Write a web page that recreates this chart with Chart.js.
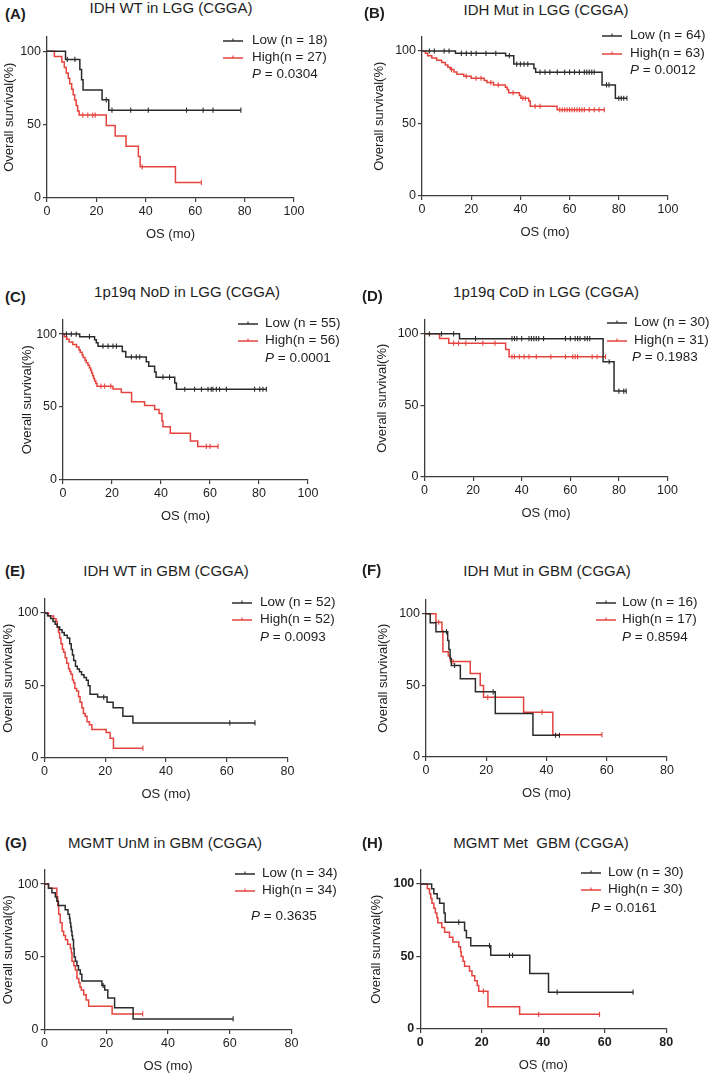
<!DOCTYPE html>
<html><head><meta charset="utf-8">
<script src="https://cdn.jsdelivr.net/npm/chart.js@4.4.1/dist/chart.umd.min.js"></script>
<style>
html,body{margin:0;padding:0;background:#fff;}
#fig{position:relative;width:709px;height:1073px;overflow:hidden;font-family:"Liberation Sans",Arial,Helvetica,sans-serif;color:#1e1e1e;}
.abs{position:absolute;white-space:pre;}
.lab{font-weight:bold;font-size:15px;line-height:18px;transform:translateY(-50%);}
.ttl{font-size:15px;line-height:18px;transform:translate(-50%,-50%);}
.leg{font-size:13.5px;line-height:16px;transform:translateY(-50%);}
.icon{position:absolute;transform:translateY(-50%);}
canvas{position:absolute;}
</style></head><body><div id="fig"></div>
<script>
// ---------------- DATA ----------------
const panelKeys   = ['A','B','C','D','E','F','G','H'];
const panelTitles = ['IDH WT in LGG (CGGA)','IDH Mut in LGG (CGGA)','1p19q NoD in LGG (CGGA)','1p19q CoD in LGG (CGGA)',
                     'IDH WT in GBM (CGGA)','IDH Mut in GBM (CGGA)','MGMT UnM in GBM (CGGA)','MGMT Met  GBM (CGGA)'];
const lowLabels   = ['Low (n = 18)','Low (n = 64)','Low (n = 55)','Low (n = 30)','Low (n = 52)','Low (n = 16)','Low (n = 34)','Low (n = 30)'];
const highLabels  = ['High(n = 27)','High(n = 63)','High(n = 56)','High(n = 31)','High(n = 52)','High(n = 17)','High(n = 34)','High(n = 30)'];
const pValues     = ['0.0304','0.0012','0.0001','0.1983','0.0093','0.8594','0.3635','0.0161'];
const xMaxes      = [100,100,100,100,80,80,80,80];
const xTickStep   = 20;
const yTicks      = [0,50,100];
const yMax        = 110;

// Panel A
const A_low_t  = [0,7.5,13.3,14,14.6,22.3,25];
const A_low_s  = [100,94.4,87.5,80.6,73.6,66.9,59.8];
const A_low_c  = [8.2,11.3,24,26.3,33.9,41,56.5,63.2,67.2,78.5];
const A_high_t = [0,3,6,7,7.8,8.6,9.2,10,10.6,11.2,11.8,12.4,13,24,27.6,32,37,37.7,52];
const A_high_s = [100,96.3,92.6,88.9,85.2,81.5,77.8,74.1,70.4,66.7,63,59.3,56.5,49.4,42.3,35.3,28.2,21.2,10.6];
const A_high_c = [14.5,16.5,18.5,19.5,38.5,62.5];
// Panel B
const B_low_t  = [0,13.6,34,37.3,45.5,46.2,73.2,78.6];
const B_low_s  = [100,98.4,96.8,91,88,85.4,76.6,67.4];
const B_low_c  = [3,5,9,11,16,18,20,22,26,30,35.5,38.5,40,41.5,43,48,50,52,55,58,60,62,64,66,67,68,69,70,75,76,80,81,82,83.3];
const B_high_t = [0,1.4,2.3,4,6,8,9.5,10.5,11.5,13,14.2,17,20,25.3,26.4,29.1,33.9,34.6,35.2,39.6,40.2,43.4,44,54.9];
const B_high_s = [100,98.4,96.8,95.2,93.6,92,90.4,88.8,87.2,85.6,84,82.6,81.2,79.7,78.2,76.6,75,73.4,71.2,69.3,67.4,65.5,61.9,59.5];
const B_high_c = [12,18,22,24,28,31,37,41,42,46,48,56,57,58,59,60,61,62,63,64,65,66,68,70,72,74.1];
// Panel C
const C_low_t  = [0,6.8,12.9,13.6,14.3,24.2,25.6,34,35,37.4,38,45.6,46.3];
const C_low_s  = [100,98.2,96.2,94,91.7,88,84.3,81,78,74,70.5,66.5,62.2];
const C_low_c  = [1.4,3.4,5.4,10.8,16.3,18.4,20.4,21.8,27.9,29.9,31.3,40.8,43.5,49.7,53.7,56.5,59.2,60.5,61.2,62.6,63.9,66.7,78.2,80.3,81.6,83];
const C_high_t = [0,0.5,1.5,2.5,4,5.5,6.5,7,7.8,8.2,9,9.5,10.2,10.8,11.3,11.7,12.1,12.5,12.9,13.4,13.9,20.4,23.8,28,33.3,37.4,39.2,40.4,40.8,43.8,52,55];
const C_high_s = [100,98.2,96.4,94.6,92.9,91.1,89.3,87.5,85.7,83.9,82.1,80.4,78.6,76.8,75,73.2,71.4,69.6,67.9,66.1,64.3,62.3,59.9,53.7,51,48.3,45.6,40.5,36.5,32,26.8,23];
const C_high_c = [15.5,17,19.5,58.5,60,63.3];
// Panel D
const D_low_t  = [0,14.4,73.5,78];
const D_low_s  = [100,96.6,80.5,60];
const D_low_c  = [2,7,12,21,36,37,38,40,43,44,45,46,47,49,58,60,62,63,64,66,67,68,76,80,82,83];
const D_high_t = [0,6.2,10,33.4,34.8];
const D_high_s = [100,96.8,93.5,89,84];
const D_high_c = [12,14,17,24,29,36,37,39,41,43,46,52,58,61,62,63,69,71,74.5];
// Panel E
const E_low_t  = [0,1,2,2.8,3.5,4.2,5,5.8,6.5,7.5,8.3,8.8,9.2,9.6,10.2,10.8,11.5,12.2,13,13.8,14.4,15,17.5,20.6,22.6,25.8,29.1];
const E_low_s  = [100,98.1,96.2,94.2,92.3,90.4,88.5,86.5,84.6,82.7,78.8,74.9,71.1,67.2,63.3,61.4,59.5,57.5,55.6,53.7,49.8,44,42,38.5,34.6,28.8,24.2];
const E_low_c  = [19.5,61,69.3];
const E_high_t = [0,1.3,3,3.8,4.2,4.6,5,5.4,5.9,6.3,6.8,7.3,7.9,8.3,8.7,9.2,9.6,10,10.6,11.2,11.7,12.3,12.8,13.4,14,14.8,15.6,20.3,21.6,22.7];
const E_high_s = [100,98,96.1,94.2,90.4,86.5,82.7,78.8,75,73,69.2,65.4,61.5,59.6,57.7,53.8,51.9,48,46.2,42.3,38.5,34.6,30.7,28.8,25,23,19.6,17.6,13.7,6.8];
const E_high_c = [32.4];
// Panel F
const F_low_t  = [0,1.4,3.3,7.2,7.6,8,8.4,11.4,16.4,23,35.5];
const F_low_s  = [100,93.8,87.5,81.3,75,68.8,63.9,54.7,45.5,30.4,15.2];
const F_low_c  = [6.8,9.5,22.3,43,44.3];
const F_high_t = [0,3.3,5.3,5.6,7.4,8.1,14.7,18,19.1,32.4,42.1];
const F_high_s = [100,94.1,88.2,73.5,70.6,66.7,58.3,50,41.7,31.3,15.6];
const F_high_c = [4.2,9,20.5,38.5,58.4];
// Panel G
const G_low_t  = [0,1.3,2.4,3.5,4,4.5,6.7,7.6,8.1,8.3,8.5,8.7,8.9,9.1,9.4,9.6,10,10.5,11,11.6,12.1,18.6,19.5,20.5,22.7,28.7];
const G_low_s  = [100,97.1,94.1,91.2,88.2,85.3,82.4,79.4,76.5,73.5,70.6,67.6,64.7,61.8,55.9,50,47.1,44.1,41.2,38.2,33.6,30.5,27.4,22,15.2,7.6];
const G_low_c  = [19,61.1];
const G_high_t = [0,1.3,4,4.3,4.6,5.1,5.7,6.2,6.8,7.5,8.4,8.7,8.9,9.5,10,10.5,11.1,11.5,11.9,12.7,13.5,14.3,21.9];
const G_high_s = [100,97.1,91.2,85.3,79.4,73.5,67.6,64.7,61.8,58.8,55.9,52.9,47.1,44.1,41.2,35.3,32.4,29.4,27.5,24.2,20.6,16.3,11];
const G_high_c = [31.8];
// Panel H
const H_low_t  = [0,3.7,4.4,5.5,6.3,7.7,8.1,14.4,15,16.4,22.9,35.6,41.7];
const H_low_s  = [100,96.7,93.3,90,86.7,80,73.7,68,63,57.5,50.8,38.2,25.4];
const H_low_c  = [12.5,22.5,29,30,44.5,69.2];
const H_high_t = [0,2.3,3,3.4,3.8,4.4,4.9,5.4,5.7,7,7.9,9.5,10.6,12.5,13.1,13.3,13.9,14.4,16,16.8,17.7,18.5,19,22,32.3];
const H_high_s = [100,96.7,93.3,90,86.7,83.3,80,76.7,73.3,70,66.7,63.3,60,56.7,53.3,50,46.7,43.3,40,36.7,33.3,30,26.1,15.3,10.1];
const H_high_c = [20.5,38.5,58.3];

const lowSeries  = [[A_low_t,A_low_s,A_low_c],[B_low_t,B_low_s,B_low_c],[C_low_t,C_low_s,C_low_c],[D_low_t,D_low_s,D_low_c],
                    [E_low_t,E_low_s,E_low_c],[F_low_t,F_low_s,F_low_c],[G_low_t,G_low_s,G_low_c],[H_low_t,H_low_s,H_low_c]];
const highSeries = [[A_high_t,A_high_s,A_high_c],[B_high_t,B_high_s,B_high_c],[C_high_t,C_high_s,C_high_c],[D_high_t,D_high_s,D_high_c],
                    [E_high_t,E_high_s,E_high_c],[F_high_t,F_high_s,F_high_c],[G_high_t,G_high_s,G_high_c],[H_high_t,H_high_s,H_high_c]];

// ---------------- LAYOUT (page pixel positions) ----------------
const layout = [
 {ytx:9,    x0:47,  x1:294, yTop:33,    yBot:198,  lab:[5,14],   ttl:[171,8],   leg:{lx:223,tx:252,lowY:40, highY:57, px:252,py:74}},
 {ytx:379,  x0:422, x1:668, yTop:33.2,  yBot:196,  lab:[364,13], ttl:[546,10],  leg:{lx:602,tx:630,lowY:35, highY:53, px:630,py:70}},
 {ytx:27,   x0:63,  x1:308, yTop:316,   yBot:480,  lab:[5,297],  ttl:[187,292], leg:{lx:238,tx:265,lowY:323,highY:340,px:265,py:358}},
 {ytx:381.5,x0:424, x1:667, yTop:316.4, yBot:477,  lab:[362,296],ttl:[546,292], leg:{lx:607,tx:634,lowY:322,highY:340,px:632,py:357}},
 {ytx:7.5,  x0:44,  x1:287, yTop:595.2, yBot:758,  lab:[5,571],  ttl:[166,571], leg:{lx:232,tx:260,lowY:602,highY:619,px:260,py:637}},
 {ytx:383,  x0:426, x1:667, yTop:596.4, yBot:757,  lab:[362,570],ttl:[547,571], leg:{lx:596,tx:622,lowY:602,highY:619,px:622,py:637}},
 {ytx:7.5,  x0:44,  x1:291, yTop:866.1, yBot:1030, lab:[5,843],  ttl:[165,843], leg:{lx:235,tx:262,lowY:873,highY:890,px:251,py:916}},
 {ytx:375.7,x0:420, x1:666, yTop:866.2, yBot:1029, lab:[362,843],ttl:[541,843], leg:{lx:581,tx:608,lowY:872,highY:889,px:591,py:908}, bold:true}
];

const FONT = '"Liberation Sans", Arial, Helvetica, sans-serif';
Chart.defaults.font.family = FONT;
const BLACK = '#2b2b2b', RED = '#e5433d', AXIS = '#3c3c3c', TXT = '#1e1e1e';
const fig = document.getElementById('fig');

function survAt(t, s, x) { let v = s[0]; for (let i = 0; i < t.length; i++) if (t[i] <= x) v = s[i]; return v; }

function curveDatasets(series, color) {
  const [t, s, c] = series;
  const pts = t.map((x, i) => ({x, y: s[i]}));
  const end = Math.max(t[t.length - 1], ...c);
  if (end > t[t.length - 1]) pts.push({x: end, y: s[s.length - 1]});
  return [
    {data: pts, borderColor: color, borderWidth: 1.5, stepped: 'before', pointRadius: 0, fill: false},
    {data: c.map(x => ({x, y: survAt(t, s, x)})), showLine: false, pointStyle: 'line', rotation: 90,
     pointRadius: 2.6, borderColor: color, backgroundColor: color, borderWidth: 1.1}
  ];
}

function addText(cls, html, x, y) {
  const d = document.createElement('div');
  d.className = 'abs ' + cls; d.innerHTML = html;
  d.style.left = x + 'px'; d.style.top = y + 'px';
  fig.appendChild(d);
}
function addIcon(x, y, color) {
  const d = document.createElement('div');
  d.className = 'icon';
  d.style.left = x + 'px'; d.style.top = y + 'px';
  d.innerHTML = '<svg width="20" height="8"><line x1="0" y1="4" x2="20" y2="4" stroke="' + color +
    '" stroke-width="1.5"/><line x1="10" y1="1.5" x2="10" y2="4" stroke="' + color + '" stroke-width="1.1"/></svg>';
  fig.appendChild(d);
}

panelKeys.forEach((k, i) => {
  const L = layout[i];
  const TITLE_OFF = 13 * 1.2 / 2 + 1.2; // axis-title center offset from scale edge
  const cLeft = L.ytx - TITLE_OFF;
  const padTop = 6;
  const cTop = L.yTop - padTop;
  const padRight = 22;
  const cRight = L.x1 + padRight;
  const xTitleY = L.yBot + 35;
  const cBottom = xTitleY + TITLE_OFF;
  const yW = L.x0 - cLeft;
  const xH = cBottom - L.yBot;
  const W = Math.round(cRight - cLeft), H = Math.round(cBottom - cTop);

  const cv = document.createElement('canvas');
  cv.width = W; cv.height = H;
  cv.style.left = cLeft + 'px'; cv.style.top = cTop + 'px';
  cv.style.width = W + 'px'; cv.style.height = H + 'px';
  fig.appendChild(cv);

  const tickFont = {size: 12.5, weight: L.bold ? 'bold' : 'normal'};
  new Chart(cv, {
    type: 'line',
    data: {datasets: [...curveDatasets(lowSeries[i], BLACK), ...curveDatasets(highSeries[i], RED)]},
    options: {
      responsive: false, animation: false, devicePixelRatio: 1, events: [],
      layout: {padding: {top: padTop, right: W - (L.x1 - cLeft), bottom: 0, left: 0}},
      plugins: {legend: {display: false}, tooltip: {enabled: false}},
      scales: {
        x: {type: 'linear', min: 0, max: xMaxes[i],
            ticks: {stepSize: xTickStep, font: tickFont, color: TXT, padding: 2, maxRotation: 0, autoSkip: false},
            grid: {drawOnChartArea: false, drawTicks: true, tickLength: 4, color: AXIS, lineWidth: 1.2},
            border: {color: AXIS, width: 1.3},
            title: {display: true, text: 'OS (mo)', font: {size: 13}, color: TXT, padding: {top: 1.2, bottom: 0}},
            afterFit: s => { s.height = xH; }},
        y: {type: 'linear', min: 0, max: yMax,
            afterBuildTicks: s => { s.ticks = yTicks.map(v => ({value: v})); },
            ticks: {font: tickFont, color: TXT, padding: 2},
            grid: {drawOnChartArea: false, drawTicks: true, tickLength: 4, color: AXIS, lineWidth: 1.2},
            border: {color: AXIS, width: 1.3},
            title: {display: true, text: 'Overall survival(%)', font: {size: 13}, color: TXT, padding: {top: 1.2, bottom: 0}},
            afterFit: s => { s.width = yW; }}
      }
    }
  });

  addText('lab', '(' + k + ')', L.lab[0], L.lab[1]);
  addText('ttl', panelTitles[i], L.ttl[0], L.ttl[1]);
  addIcon(L.leg.lx, L.leg.lowY, BLACK);
  addIcon(L.leg.lx, L.leg.highY, RED);
  addText('leg', lowLabels[i], L.leg.tx, L.leg.lowY);
  addText('leg', highLabels[i], L.leg.tx, L.leg.highY);
  addText('leg', '<i>P</i> = ' + pValues[i], L.leg.px, L.leg.py);
});
</script></body></html>
